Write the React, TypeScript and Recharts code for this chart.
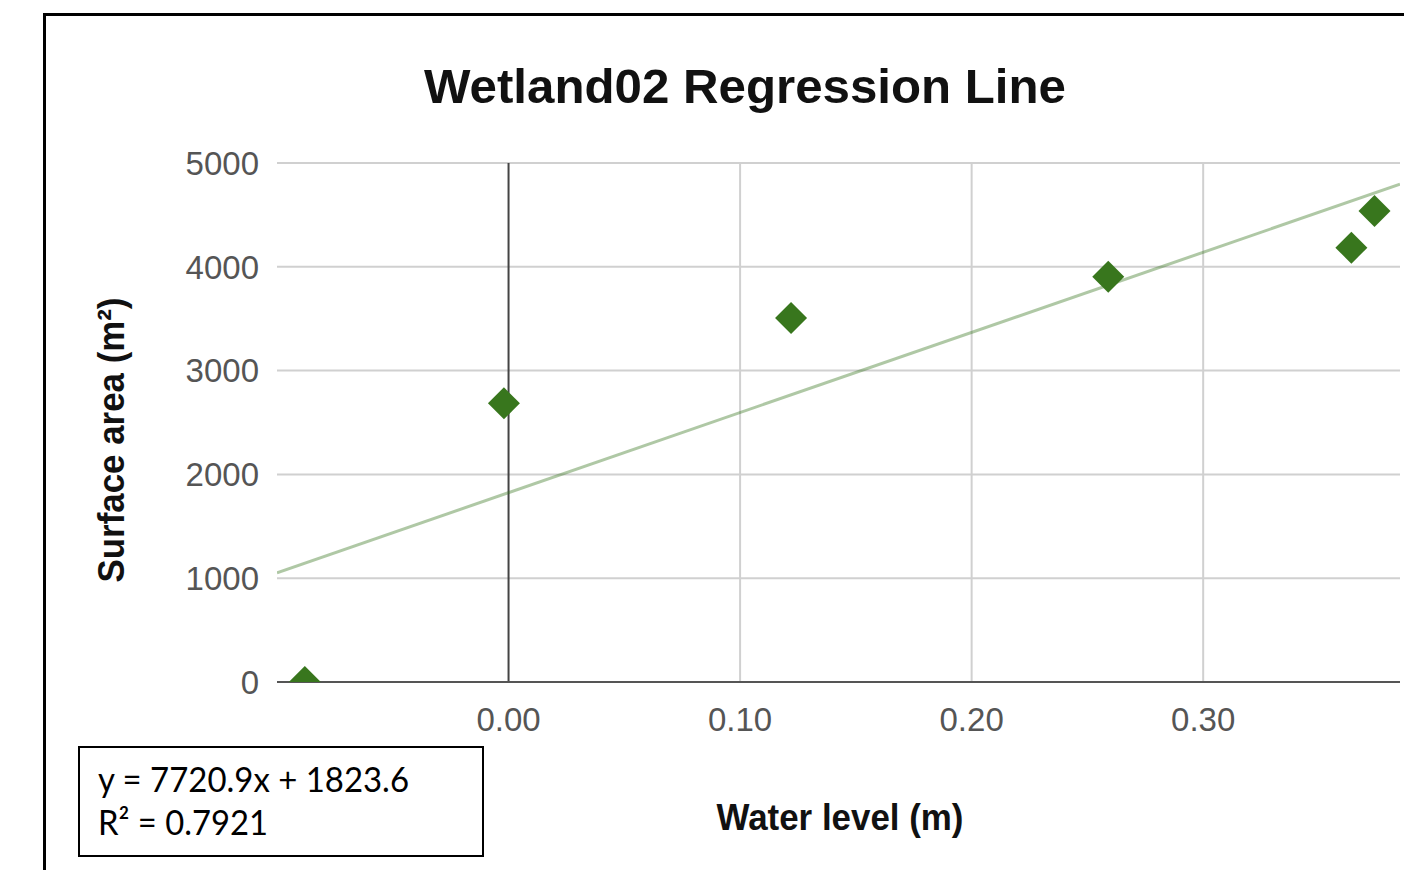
import React from "react";
import {
  ComposedChart,
  Scatter,
  XAxis,
  YAxis,
  CartesianGrid,
  ReferenceLine,
} from "recharts";

// values
const waterLevel = [-0.088, -0.002, 0.122, 0.259, 0.364, 0.374];
const surfaceArea = [0, 2685, 3507, 3905, 4184, 4538];

// trendline end points (y = 7720.9x + 1823.6 at the plot edges)
const trendX = [-0.1, 0.385];
const trendY = [1052, 4796];

const xTicks = [0, 0.1, 0.2, 0.3];
const yTicks = [0, 1000, 2000, 3000, 4000, 5000];

const points = waterLevel.map((x, i) => ({ x, y: surfaceArea[i] }));
const trend = trendX.map((x, i) => ({ x, y: trendY[i] }));

const GREEN = "#38761d";
const FONT = "'Liberation Sans', Arial, sans-serif";

const Diamond = (props: any) => {
  const { cx, cy } = props;
  const r = 16;
  return (
    <polygon
      points={`${cx},${cy - r} ${cx + r},${cy} ${cx},${cy + r} ${cx - r},${cy}`}
      fill={GREEN}
    />
  );
};

export default function App() {
  return (
    <div
      style={{
        position: "absolute",
        left: 0,
        top: 0,
        width: 1404,
        height: 870,
        overflow: "hidden",
        background: "#fff",
      }}
    >
      {/* outer frame, only left and top edges visible */}
      <div
        style={{
          position: "absolute",
          left: 43,
          top: 13,
          width: 1400,
          height: 900,
          borderLeft: "3px solid #000",
          borderTop: "3px solid #000",
        }}
      />

      <div style={{ position: "absolute", left: 0, top: 0 }}>
        <ComposedChart
          width={1404}
          height={870}
          margin={{ top: 163, right: 4, bottom: 128, left: 7 }}
        >
          <CartesianGrid stroke="#d0d0d0" strokeWidth={2} vertical={false} />
          <XAxis
            type="number"
            dataKey="x"
            domain={[-0.1, 0.385]}
            ticks={xTicks}
            allowDataOverflow
            tickFormatter={(v: number) => v.toFixed(2)}
            axisLine={{ stroke: "#555", strokeWidth: 2 }}
            tickLine={false}
            tickSize={0}
            tickMargin={26}
            height={60}
            tick={{ fill: "#555", fontSize: 33, fontFamily: FONT }}
          />
          <YAxis
            type="number"
            dataKey="y"
            domain={[0, 5000]}
            ticks={yTicks}
            allowDataOverflow
            axisLine={false}
            tickLine={false}
            tickSize={0}
            tickMargin={18}
            width={270}
            tick={{ fill: "#555", fontSize: 33, fontFamily: FONT }}
          />
          {/* vertical grid at the x ticks, the zero line darker */}
          {xTicks.map((t) => (
            <ReferenceLine
              key={t}
              x={t}
              stroke={t === 0 ? "#444" : "#d0d0d0"}
              strokeWidth={2}
            />
          ))}
          <Scatter
            data={trend}
            line={{ stroke: GREEN, strokeWidth: 3, strokeOpacity: 0.4 }}
            shape={() => <g />}
            isAnimationActive={false}
            legendType="none"
          />
          <Scatter
            data={points}
            shape={Diamond}
            isAnimationActive={false}
          />
        </ComposedChart>
      </div>

      <svg
        width={1404}
        height={870}
        style={{ position: "absolute", left: 0, top: 0, pointerEvents: "none" }}
      >
        <text
          x={745}
          y={103}
          textAnchor="middle"
          fontFamily={FONT}
          fontWeight="bold"
          fontSize={48}
          textLength={642}
          lengthAdjust="spacingAndGlyphs"
          fill="#111"
        >
          Wetland02 Regression Line
        </text>
        <text
          x={840}
          y={830}
          textAnchor="middle"
          fontFamily={FONT}
          fontWeight="bold"
          fontSize={37}
          textLength={247}
          lengthAdjust="spacingAndGlyphs"
          fill="#111"
        >
          Water level (m)
        </text>
        <text
          transform="translate(124 440) rotate(-90)"
          textAnchor="middle"
          fontFamily={FONT}
          fontWeight="bold"
          fontSize={37}
          textLength={285}
          lengthAdjust="spacingAndGlyphs"
          fill="#111"
        >
          Surface area (m²)
        </text>

        <rect x={79} y={747} width={404} height={109} fill="#fff" stroke="#000" strokeWidth={2} />
        <text
          x={98}
          y={792}
          fontFamily="Lato, 'Open Sans', sans-serif"
          fontSize={34}
          textLength={311}
          lengthAdjust="spacingAndGlyphs"
          fill="#000"
        >
          y = 7720.9x + 1823.6
        </text>
        <text
          x={98}
          y={835}
          fontFamily="Lato, 'Open Sans', sans-serif"
          fontSize={34}
          textLength={170}
          lengthAdjust="spacingAndGlyphs"
          fill="#000"
        >
          R² = 0.7921
        </text>
      </svg>
    </div>
  );
}
